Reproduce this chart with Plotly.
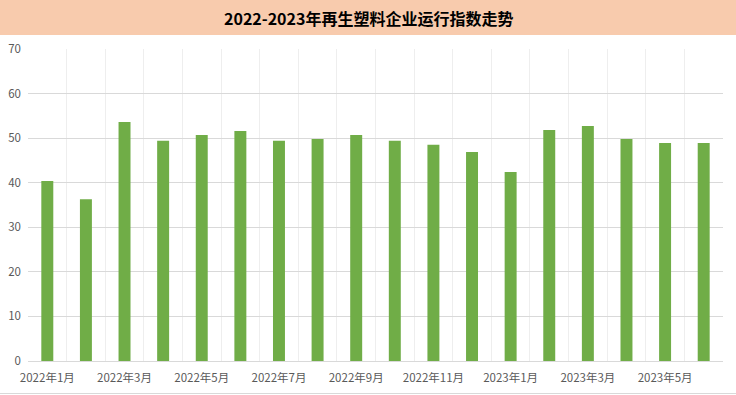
import plotly.graph_objects as go

months = ["2022年1月", "2022年2月", "2022年3月", "2022年4月", "2022年5月", "2022年6月",
          "2022年7月", "2022年8月", "2022年9月", "2022年10月", "2022年11月", "2022年12月",
          "2023年1月", "2023年2月", "2023年3月", "2023年4月", "2023年5月", "2023年6月"]
index_values = [40.4, 36.3, 53.6, 49.4, 50.7, 51.6, 49.4, 49.8, 50.7, 49.4, 48.5, 46.9,
                42.4, 51.8, 52.7, 49.8, 48.9, 48.9]
tick_labels = [m if i % 2 == 0 else "" for i, m in enumerate(months)]
title_text = "2022-2023年再生塑料企业运行指数走势"

W, H = 736, 395
ml, mr, mt, mb = 28, 13, 49, 34
ph = H - mt - mb
pw = W - ml - mr

def py(px_from_top):
    return 1 + (mt - px_from_top) / ph

fig = go.Figure(go.Bar(x=months, y=index_values, marker_color="#70AD47",
                       marker_line_width=0, hoverinfo="x+y"))

fig.update_layout(
    width=W, height=H,
    margin=dict(l=ml, r=mr, t=mt, b=mb, pad=0, autoexpand=False),
    paper_bgcolor="white", plot_bgcolor="white",
    bargap=0.69, showlegend=False,
    font=dict(family="Noto Sans CJK SC, Noto Sans, sans-serif", size=11, color="#595959"),
    shapes=[
        dict(type="rect", xref="paper", yref="paper", x0=-ml / pw, x1=1 + mr / pw,
             y0=py(35), y1=py(0), fillcolor="#F8CBAD", line_width=0, layer="below"),
        dict(type="line", xref="paper", yref="paper", x0=-ml / pw, x1=1 + mr / pw,
             y0=py(393.5), y1=py(393.5), line=dict(color="#d9d9d9", width=1)),
    ],
    annotations=[
        dict(text="<b>" + title_text + "</b>", xref="paper", yref="paper",
             x=(368 - ml) / pw, y=py(18), xanchor="center", yanchor="middle",
             showarrow=False, font=dict(family="Noto Sans CJK SC", size=16, color="#000000")),
    ],
)

fig.update_xaxes(
    type="category", tickvals=months, ticktext=tick_labels, automargin=False,
    tickson="boundaries", showgrid=True, gridcolor="#eeeeee", gridwidth=1,
    showline=True, linecolor="#d9d9d9", linewidth=1, ticks="",
    tickangle=0, ticklabelstandoff=6, tickfont=dict(size=11.5, color="#595959"),
)
fig.update_yaxes(
    range=[0, 70], dtick=10, showgrid=True, gridcolor="#d9d9d9", gridwidth=1,
    zeroline=False, showline=False, ticks="", ticklabelstandoff=6, automargin=False,
    tickfont=dict(size=11.5, color="#595959"),
)

fig.write_html("out.html", config={"displayModeBar": False},
               post_script="document.body.style.margin='0';document.body.style.overflow='hidden';")
